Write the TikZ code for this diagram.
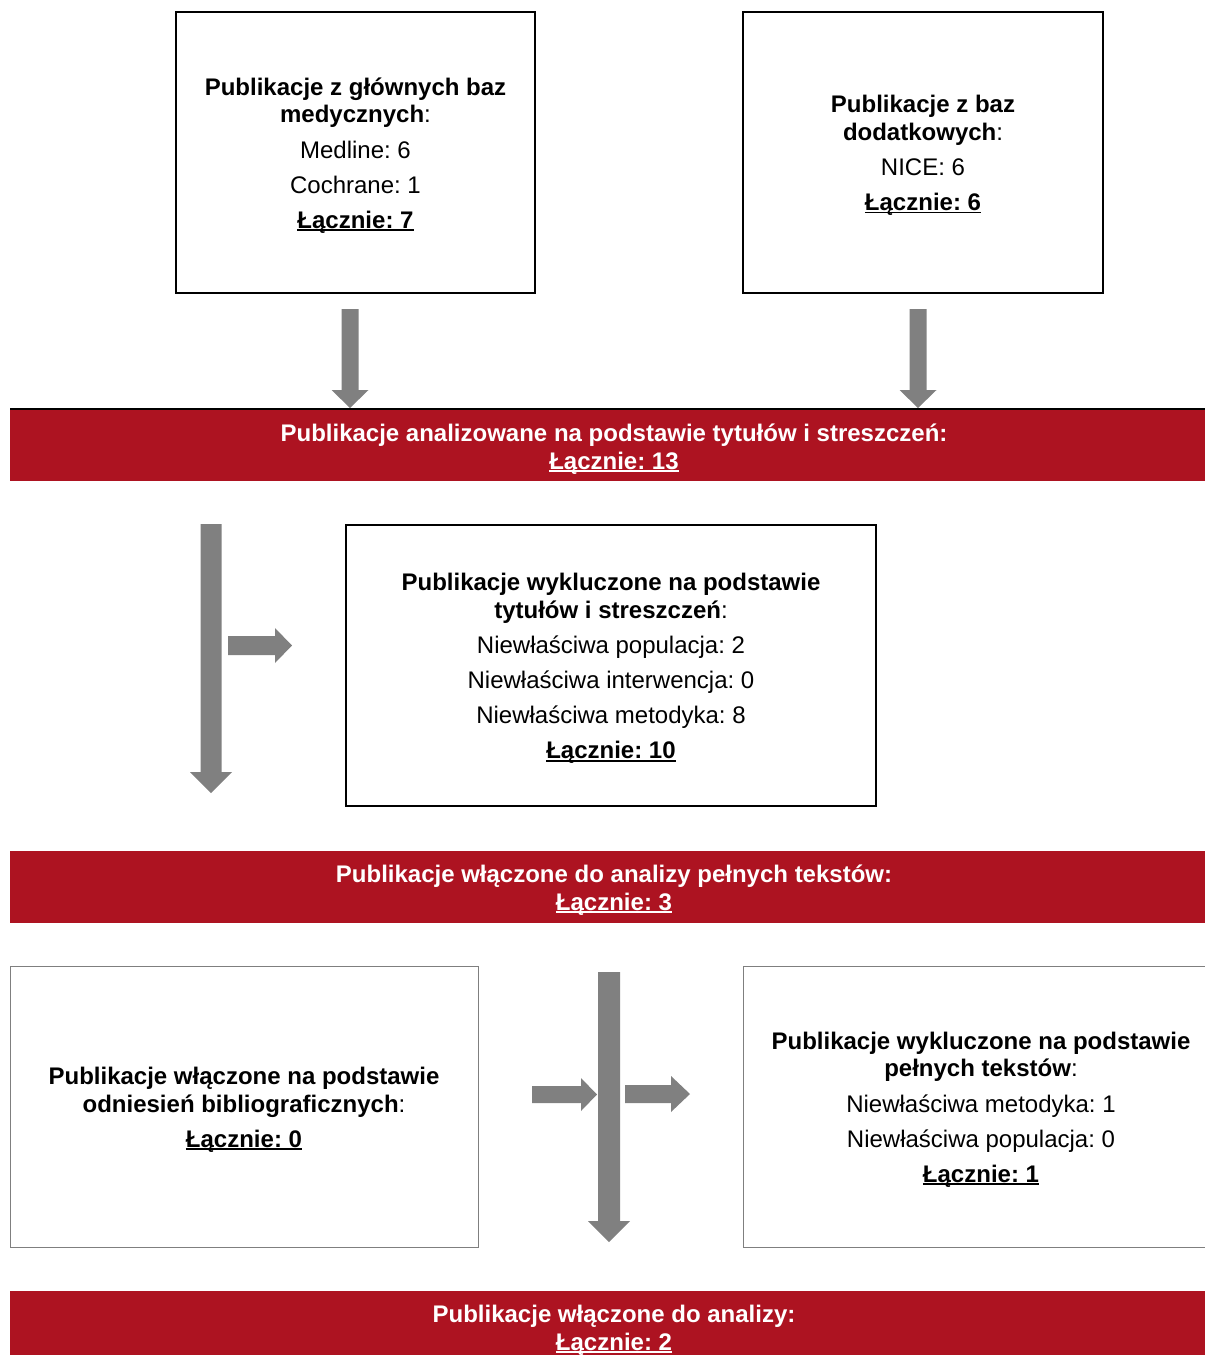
\documentclass[tikz,border=0pt]{standalone}
\usepackage{fontspec}
\setmainfont{Liberation Sans}
\frenchspacing
\definecolor{barred}{HTML}{AD1321}
\definecolor{arrowgray}{HTML}{808080}
\definecolor{boxgray}{HTML}{7F7F7F}
\newcommand\myul[1]{\setbox0\hbox{#1}\rlap{\rule[-2.8pt]{\wd0}{1.8pt}}\box0}
\newcommand\topstrut{\rule{0pt}{23.5pt}}
\newcommand\garrowV[6]{% cx, top, head start, tip, shaft half, head half
  \fill[arrowgray] ({#1-#5},#2) -- ({#1+#5},#2) -- ({#1+#5},#3) -- ({#1+#6},#3) -- (#1,#4) -- ({#1-#6},#3) -- ({#1-#5},#3) -- cycle;}
\newcommand\garrowH[6]{% cy, left, head start, tip, shaft half, head half
  \fill[arrowgray] (#2,{#1-#5}) -- (#3,{#1-#5}) -- (#3,{#1-#6}) -- (#4,#1) -- (#3,{#1+#6}) -- (#3,{#1+#5}) -- (#2,{#1+#5}) -- cycle;}
\begin{document}
\begin{tikzpicture}[x=1pt,y=-1pt,
  every node/.style={font=\fontsize{24}{27.6}\selectfont, inner sep=0pt, outer sep=0pt, align=center},
  topbox/.style={draw=black, line width=1.8pt, minimum height=281},
  lowbox/.style={draw=boxgray, line width=1pt, minimum height=281},
  redbar/.style={fill=barred, minimum width=1195},
  bartext/.style={text=white, font=\fontsize{24}{27.6}\selectfont\bfseries}]
\useasboundingbox (0,0) rectangle (1205,1355);
\begin{scope}
\clip (0,0) rectangle (1205,1355);
% top boxes
\node[topbox, minimum width=359] (b1) at (355.5,152.5)
  {\topstrut\textbf{Publikacje z głównych baz}\\ \textbf{medycznych}:\\[7.5pt] Medline: 6\\[7.5pt] Cochrane: 1\\[7.5pt] {\bfseries\myul{Łącznie: 7}}};
\node[topbox, minimum width=360] (b2) at (923,152.5)
  {\topstrut\textbf{Publikacje z baz}\\ \textbf{dodatkowych}:\\[7.5pt] NICE: 6\\[7.5pt] {\bfseries\myul{Łącznie: 6}}};
% bar 1
\node[redbar, minimum height=72] (bar1) at (607.5,445) {};
\draw[line width=2pt] (bar1.north west) -- (bar1.north east);
\node[bartext] (bar1t) at (614,449) {Publikacje analizowane na podstawie tytułów i streszczeń:\\ \myul{Łącznie: 13}};
% arrows into bar 1
\garrowV{350}{309}{390}{408}{8.5}{18.5}
\garrowV{918}{309}{390}{408}{8.5}{18.5}
% excluded box 1
\node[topbox, minimum width=530] (b3) at (611,665.5)
  {\topstrut\textbf{Publikacje wykluczone na podstawie}\\ \textbf{tytułów i streszczeń}:\\[7.5pt] Niewłaściwa populacja: 2\\[7.5pt] Niewłaściwa interwencja: 0\\[7.5pt] Niewłaściwa metodyka: 8\\[7.5pt] {\bfseries\myul{Łącznie: 10}}};
\garrowV{211}{524}{772}{793}{10.5}{21}
\garrowH{645.5}{228}{275}{292}{9.5}{17.5}
% bar 2
\node[redbar, minimum height=72] (bar2) at (607.5,887) {};
\node[bartext] (bar2t) at (614,890) {Publikacje włączone do analizy pełnych tekstów:\\ \myul{Łącznie: 3}};
% lower boxes
\node[lowbox, minimum width=468] (b4) at (244,1106.5)
  {\topstrut\textbf{Publikacje włączone na podstawie}\\ \textbf{odniesień bibliograficznych}:\\[7.5pt] {\bfseries\myul{Łącznie: 0}}};
\node[lowbox, minimum width=476] (b5) at (981,1106.5)
  {\topstrut\textbf{Publikacje wykluczone na podstawie}\\ \textbf{pełnych tekstów}:\\[7.5pt] Niewłaściwa metodyka: 1\\[7.5pt] Niewłaściwa populacja: 0\\[7.5pt] {\bfseries\myul{Łącznie: 1}}};
\garrowV{609}{972}{1221}{1242}{11}{21}
\garrowH{1094.5}{532}{581}{597}{8.5}{16.5}
\garrowH{1094}{625}{671}{690}{9}{18}
% bar 3
\node[redbar, minimum height=80] (bar3) at (607.5,1331) {};
\node[bartext] (bar3t) at (614,1330) {Publikacje włączone do analizy:\\ \myul{Łącznie: 2}};
\end{scope}
\end{tikzpicture}
\end{document}
